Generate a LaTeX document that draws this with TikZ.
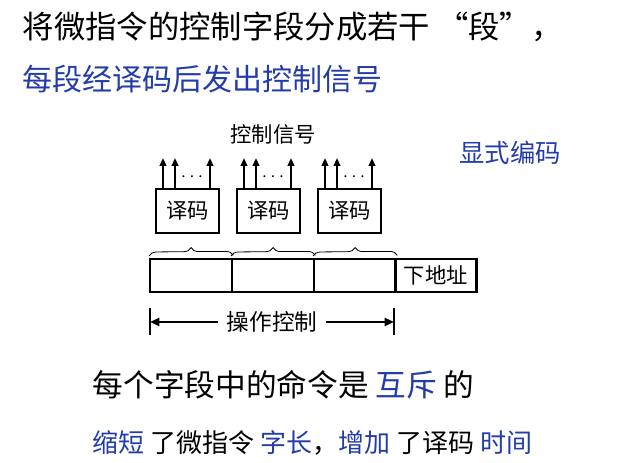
\documentclass[tikz,border=0pt]{standalone}
\usepackage{fontspec}
\newfontfamily\cjk{Noto Sans CJK SC}
\usetikzlibrary{arrows.meta,decorations.pathreplacing}
\definecolor{tblue}{RGB}{35,60,170}
\begin{document}
\begin{tikzpicture}[x=0.75pt,y=-0.75pt,font=\cjk,
  box/.style={draw,line width=1.6pt,minimum width=47pt,minimum height=33pt,inner sep=0pt,font=\cjk\fontsize{16}{18}\selectfont},
  up/.style={-{Triangle[length=6pt,width=5pt]},line width=1.6pt},
  cell/.style={draw,line width=1.8pt,minimum width=61.5pt,minimum height=24.75pt,inner sep=0pt,anchor=north west}]
\useasboundingbox (0,0) rectangle (617,463);
\node[anchor=west,font=\cjk\fontsize{23.5}{26}\selectfont] (t1) at (18,27) {将微指令的控制字段分成若干 “段”，};
\node[anchor=west,text=tblue,font=\cjk\fontsize{22.5}{26}\selectfont] (t2) at (18,79) {每段经译码后发出控制信号};
\node[font=\cjk\fontsize{16}{18}\selectfont] (sig) at (273,134) {控制信号};
\node[text=tblue,font=\cjk\fontsize{19}{22}\selectfont] (exp) at (510,153) {显式编码};
\foreach \i/\x in {1/155,2/236,3/317}{
  \node[box,anchor=north west] (d\i) at (\x,188) {译码};
  \draw[up] (\x+8,188) -- (\x+8,158);
  \draw[up] (\x+20,188) -- (\x+20,158);
  \draw[up] (\x+55,188) -- (\x+55,158);
  \node[font=\Large] (dots\i) at (\x+37,177) {$\cdots$};
}
\node[cell] (c1) at (149,258) {};
\node[cell] (c2) at (231,258) {};
\node[cell] (c3) at (313,258) {};
\node[cell,minimum width=61pt,font=\cjk\fontsize{16}{18}\selectfont] (c4) at (394,258) {下地址};
\foreach \i in {1,2,3}{
  \draw[decorate,decoration={brace,amplitude=6pt},line width=0.6pt] (c\i.north west)++(0,-2) -- ([yshift=2]c\i.north east);
}
\coordinate (l) at (150,322);
\coordinate (r) at (394,322);
\draw[line width=1.6pt] (150,308) -- (150,335);
\draw[line width=1.6pt] (394,308) -- (394,335);
\node[fill=white,font=\cjk\fontsize{17}{19}\selectfont,inner xsep=6pt] (op) at (272,322) {操作控制};
\draw[-{Triangle[length=7pt,width=6pt]},line width=1.6pt] (op.west) -- (l);
\draw[-{Triangle[length=7pt,width=6pt]},line width=1.6pt] (op.east) -- (r);
\node[anchor=west,font=\cjk\fontsize{23}{26}\selectfont] (b1) at (88,385) {每个字段中的命令是 \textcolor{tblue}{互斥} 的};
\node[anchor=west,font=\cjk\fontsize{19.5}{22}\selectfont] (b2) at (88,443) {\textcolor{tblue}{缩短} 了微指令 \textcolor{tblue}{字长}，\textcolor{tblue}{增加} 了译码 \textcolor{tblue}{时间}};
\end{tikzpicture}
\end{document}
